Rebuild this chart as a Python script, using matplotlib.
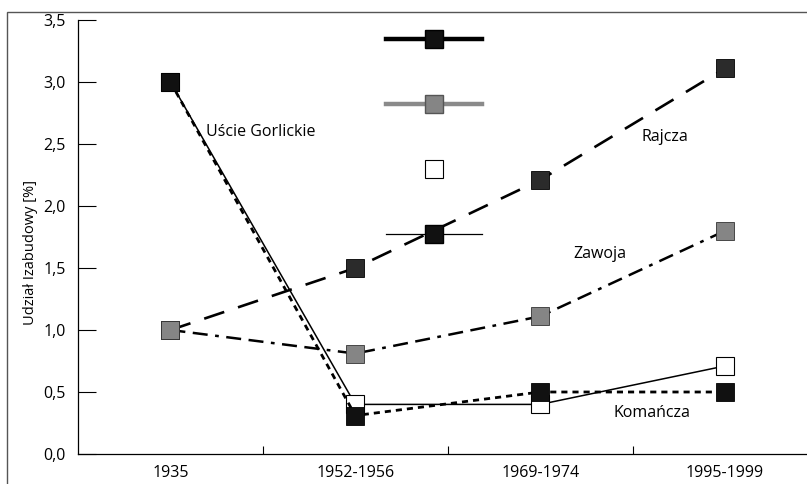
import matplotlib.pyplot as plt
from matplotlib.lines import Line2D
from matplotlib.patches import Rectangle

plt.rcParams['font.family'] = ['Open Sans', 'DejaVu Sans']

periods = ['1935', '1952-1956', '1969-1974', '1995-1999']
uscie_gorlickie = [3.0, 0.4, 0.4, 0.71]
komancza = [3.0, 0.31, 0.5, 0.5]
rajcza = [1.0, 1.5, 2.21, 3.11]
zawoja = [1.0, 0.81, 1.11, 1.8]
y_ticks = [0.0, 0.5, 1.0, 1.5, 2.0, 2.5, 3.0, 3.5]

W, H = 807, 484
fig = plt.figure(figsize=(W / 100, H / 100), dpi=100)
ax = fig.add_axes([78 / W, 30 / H, (817.5 - 78) / W, 434 / H])

x = range(len(periods))
ms = 13.5

ax.plot(x, rajcza, color='black', lw=1.9, linestyle=(0, (8, 5.5)),
        marker='s', ms=ms, mfc='#2b2b2b', mec='black', mew=0.6)
ax.plot(x, zawoja, color='black', lw=1.8, linestyle=(0, (6, 3, 6, 3, 1.5, 3)),
        marker='s', ms=ms, mfc='#858585', mec='#333333', mew=0.6)
ax.plot(x, uscie_gorlickie, color='black', lw=1.1, linestyle='-',
        marker='s', ms=ms, mfc='white', mec='black', mew=0.8)
ax.plot(x, komancza, color='black', lw=2.0, linestyle=(0, (2.2, 1.8)),
        marker='s', ms=ms, mfc='#111111', mec='black', mew=0.6)

# stray key without labels, as in the original scan
handles = [
    Line2D([], [], color='black', lw=3.2, marker='s', ms=ms, mfc='#111111', mec='black'),
    Line2D([], [], color='#8a8a8a', lw=3.2, marker='s', ms=ms, mfc='#858585', mec='#555555'),
    Line2D([], [], color='none', lw=0, marker='s', ms=ms, mfc='white', mec='black', mew=0.8),
    Line2D([], [], color='black', lw=0.9, marker='s', ms=ms, mfc='#111111', mec='black'),
]
ax.legend(handles, [''] * 4, loc='center', bbox_to_anchor=(0.481, 0.729),
          frameon=False, handlelength=6.9, handletextpad=0, borderpad=0,
          labelspacing=3.6, fontsize=10)

ax.text(0.486, 2.6, 'Uście Gorlickie', fontsize=11.5, ha='center', va='center')
ax.text(2.676, 2.56, 'Rajcza', fontsize=11.5, ha='center', va='center')
ax.text(2.324, 1.61, 'Zawoja', fontsize=11.5, ha='center', va='center')
ax.text(2.605, 0.33, 'Komańcza', fontsize=11.5, ha='center', va='center')

ax.set_xlim(-0.5, 3.5)
ax.set_ylim(0, 3.5)
ax.set_xticks(list(x))
ax.set_xticklabels(periods, fontsize=11.5)
ax.set_xticks([0.5, 1.5, 2.5], minor=True)
ax.tick_params(axis='x', which='major', length=0, pad=8)
ax.tick_params(axis='x', which='minor', direction='in', length=6, width=0.8)
ax.set_yticks(y_ticks)
ax.yaxis.set_major_formatter(plt.FuncFormatter(lambda v, _: f'{v:.1f}'.replace('.', ',')))
ax.tick_params(axis='y', direction='in', length=13, width=0.8, labelsize=11.5, pad=9)
ax.set_ylabel('Udział Izabudowy [%]', fontsize=10.5)
ax.yaxis.set_label_coords(-(78 - 38) / 739.5, 0.465)

for side in ('top', 'right'):
    ax.spines[side].set_visible(False)
for side in ('left', 'bottom'):
    ax.spines[side].set_linewidth(0.9)

fig.patches.append(Rectangle((7 / W, -0.1), 1.2, 1.1 - 12 / H, transform=fig.transFigure,
                             fill=False, edgecolor='#555555', lw=1.0))

plt.savefig('out.png', dpi=100)
